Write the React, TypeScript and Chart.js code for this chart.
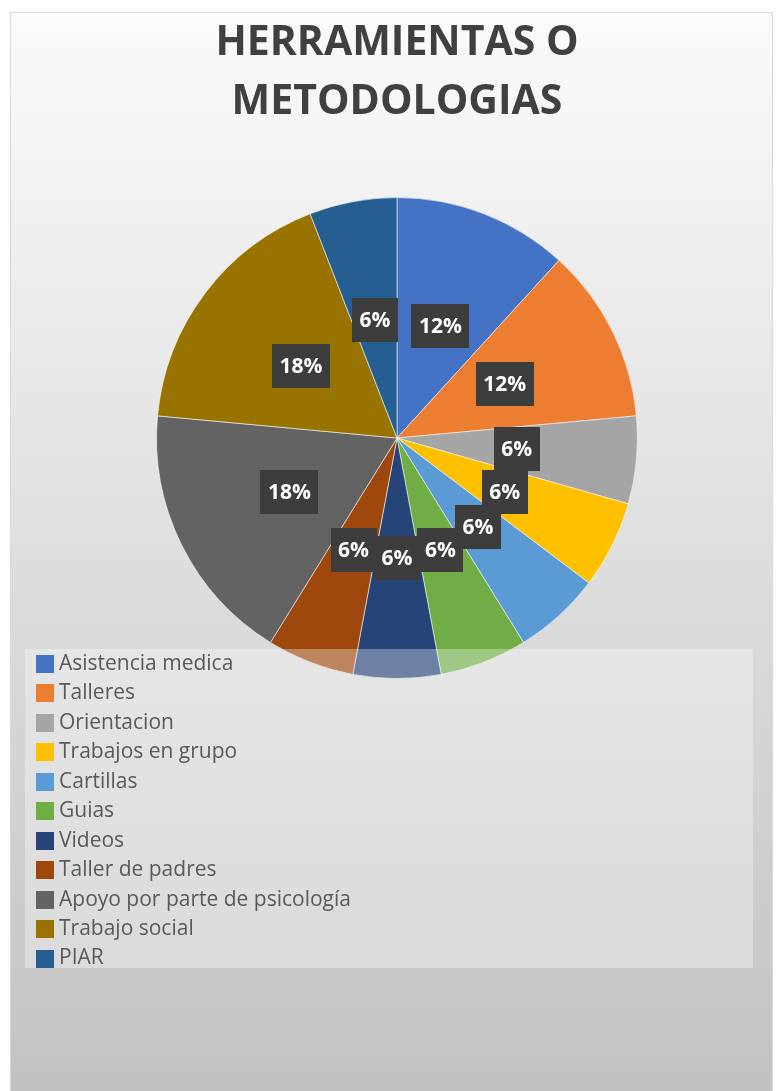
import React, { useEffect, useRef } from "react";
import { Chart, registerables } from "chart.js";

Chart.register(...registerables);

const titleLines = ["HERRAMIENTAS O", "METODOLOGIAS"];
const categories = [
  "Asistencia medica",
  "Talleres",
  "Orientacion",
  "Trabajos en grupo",
  "Cartillas",
  "Guias",
  "Videos",
  "Taller de padres",
  "Apoyo por parte de psicología",
  "Trabajo social",
  "PIAR",
];
const counts = [2, 2, 1, 1, 1, 1, 1, 1, 3, 3, 1];
const colors = [
  "#4472C4",
  "#ED7D31",
  "#A5A5A5",
  "#FFC000",
  "#5B9BD5",
  "#70AD47",
  "#264478",
  "#9E480E",
  "#636363",
  "#997300",
  "#255E91",
];

const W = 777;
const H = 1091;

const bgPlugin = {
  id: "bgFrame",
  beforeDraw(chart: any) {
    const { ctx } = chart;
    ctx.save();
    ctx.fillStyle = "#ffffff";
    ctx.fillRect(0, 0, W, H);
    const g = ctx.createLinearGradient(0, 12, 0, H);
    g.addColorStop(0, "#fbfbfb");
    g.addColorStop(1, "#c2c2c2");
    ctx.fillStyle = g;
    ctx.fillRect(10, 12, 763, H);
    ctx.strokeStyle = "#d9d9d9";
    ctx.lineWidth = 1;
    ctx.strokeRect(10.5, 12.5, 762, H);
    ctx.restore();
  },
};

const labelPlugin = {
  id: "pctLabels",
  afterDatasetsDraw(chart: any) {
    const { ctx } = chart;
    const ds = chart.data.datasets[0];
    const values = ds.data as number[];
    const total = values.reduce((a, b) => a + b, 0);
    const meta = chart.getDatasetMeta(0);
    ctx.save();
    ctx.font = "bold 21px 'Open Sans'";
    ctx.textAlign = "center";
    ctx.textBaseline = "middle";
    meta.data.forEach((arc: any, i: number) => {
      const { x, y } = arc.tooltipPosition();
      const txt = Math.round((values[i] / total) * 100) + "%";
      const tw = ctx.measureText(txt).width;
      const bw = tw + 15;
      const bh = 44;
      ctx.fillStyle = "#3d3d3d";
      ctx.fillRect(Math.round(x - bw / 2), Math.round(y - bh / 2), Math.round(bw), bh);
      ctx.fillStyle = "#ffffff";
      ctx.fillText(txt, x, y + 1);
    });
    ctx.restore();
  },
};

const legendPlugin = {
  id: "overlayLegend",
  afterDraw(chart: any) {
    const { ctx } = chart;
    const labels = chart.data.labels as string[];
    const bg = chart.data.datasets[0].backgroundColor as string[];
    ctx.save();
    ctx.fillStyle = "rgba(255,255,255,0.33)";
    ctx.fillRect(25, 649, 728, 319);
    ctx.font = "21px 'Open Sans'";
    ctx.textAlign = "left";
    ctx.textBaseline = "middle";
    labels.forEach((lab, i) => {
      const cy = 664 + i * 29.45;
      ctx.fillStyle = bg[i];
      ctx.fillRect(36, Math.round(cy - 9), 18, 18);
      ctx.fillStyle = "#595959";
      ctx.fillText(lab, 59, cy);
    });
    ctx.restore();
  },
};

export default function App() {
  const ref = useRef<HTMLCanvasElement | null>(null);
  useEffect(() => {
    if (!ref.current) return;
    const chart = new Chart(ref.current, {
      type: "pie",
      data: {
        labels: categories,
        datasets: [
          {
            data: counts,
            backgroundColor: colors,
            borderColor: "rgba(255,255,255,0.55)",
            borderWidth: 1,
          },
        ],
      },
      options: {
        responsive: false,
        animation: false,
        layout: { padding: { top: 0, left: 156, right: 139, bottom: 412 } },
        plugins: {
          legend: { display: false },
          tooltip: { enabled: false },
          title: {
            display: true,
            text: titleLines,
            color: "#404040",
            font: { family: "'Open Sans'", size: 41, weight: "bold", lineHeight: 1.44 },
            padding: { top: 14, bottom: 65 },
          },
        },
      },
      plugins: [bgPlugin, labelPlugin, legendPlugin],
    });
    return () => chart.destroy();
  }, []);
  return (
    <div style={{ position: "absolute", left: 0, top: 0, width: W, height: H }}>
      <canvas ref={ref} width={W} height={H} style={{ width: W, height: H, display: "block" }} />
    </div>
  );
}
